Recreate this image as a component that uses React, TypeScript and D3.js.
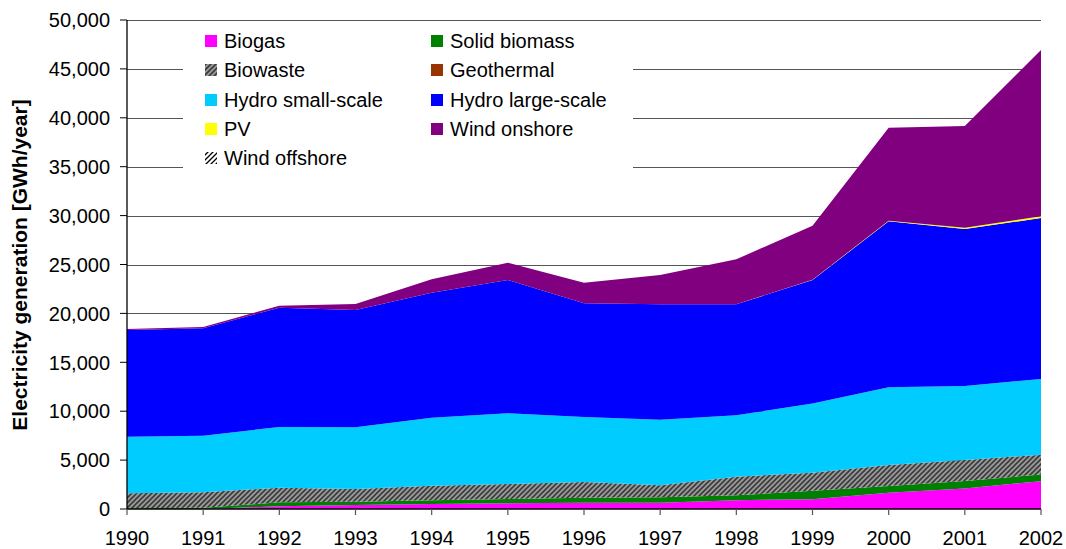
import React from "react";
import * as d3 from "d3";

const years = [1990, 1991, 1992, 1993, 1994, 1995, 1996, 1997, 1998, 1999, 2000, 2001, 2002];
const yTicks = [0, 5000, 10000, 15000, 20000, 25000, 30000, 35000, 40000, 45000, 50000];

const biogas = [0, 10, 280, 400, 500, 600, 650, 650, 900, 1000, 1650, 2100, 2850];
const solidBiomass = [70, 120, 400, 350, 390, 420, 510, 540, 500, 870, 700, 760, 690];
const biowaste = [1530, 1570, 1500, 1290, 1500, 1530, 1600, 1230, 1900, 1840, 2150, 2150, 2010];
const geothermal = [0, 0, 0, 0, 0, 0, 0, 0, 0, 0, 0, 0, 0];
const hydroSmall = [5790, 5800, 6205, 6310, 6950, 7230, 6650, 6710, 6280, 7090, 7940, 7570, 7740];
const hydroLarge = [10910, 10980, 12195, 12000, 12780, 13635, 11620, 11800, 11350, 12615, 16980, 16050, 16460];
const pv = [0, 0, 0, 0, 0, 0, 0, 0, 0, 30, 60, 120, 190];
const windOnshore = [100, 130, 210, 610, 1370, 1765, 2110, 3000, 4600, 5525, 9510, 10410, 16990];
const windOffshore = [0, 0, 0, 0, 0, 0, 0, 0, 0, 0, 0, 0, 0];

const seriesNames = [
  "Biogas", "Solid biomass", "Biowaste", "Geothermal", "Hydro small-scale",
  "Hydro large-scale", "PV", "Wind onshore", "Wind offshore",
];
const seriesValues = [biogas, solidBiomass, biowaste, geothermal, hydroSmall, hydroLarge, pv, windOnshore, windOffshore];
const seriesFills = [
  "#FF00FF", "#008000", "url(#biowaste)", "#993300", "#00CCFF",
  "#0000FF", "#FFFF00", "#800080", "url(#offshore)",
];

const FONT = "'Liberation Sans', Arial, Helvetica, sans-serif";

export default function App() {
  const W = 1066, H = 549;
  const x = d3.scaleLinear().domain([1990, 2002]).range([127, 1041]);
  const y = d3.scaleLinear().domain([0, 50000]).range([509, 20]);

  const table = years.map((yr, i) => {
    const row: any = { year: yr };
    seriesNames.forEach((n, k) => (row[n] = seriesValues[k][i]));
    return row;
  });
  const stacked = d3.stack().keys(seriesNames)(table);
  const area = d3
    .area<any>()
    .x((d) => x(d.data.year))
    .y0((d) => y(d[0]))
    .y1((d) => y(d[1]));

  const legendOrder = [
    [0, 1],
    [2, 3],
    [4, 5],
    [6, 7],
    [8],
  ];
  const rowY = [41, 70, 100, 129, 158];
  const colX = [205, 431];

  return (
    <svg width={W} height={H} style={{ position: "absolute", left: 0, top: 0, background: "#fff" }}>
      <defs>
        <pattern id="biowaste" patternUnits="userSpaceOnUse" width="5" height="5">
          <rect width="5" height="5" fill="#9a9a9a" />
          <path d="M-1,1 l2,-2 M0,5 l5,-5 M4,6 l2,-2" stroke="#3a3a3a" strokeWidth="1.6" />
        </pattern>
        <pattern id="offshore" patternUnits="userSpaceOnUse" width="5" height="5">
          <rect width="5" height="5" fill="#ffffff" />
          <path d="M-1,1 l2,-2 M0,5 l5,-5 M4,6 l2,-2" stroke="#000" strokeWidth="1.3" />
        </pattern>
      </defs>
      <rect width={W} height={H} fill="#fff" />
      {yTicks.filter((t) => t > 0).map((t) => (
        <line key={t} x1={127} x2={1041} y1={Math.round(y(t)) + 0.5} y2={Math.round(y(t)) + 0.5} stroke="#555" strokeWidth={1} />
      ))}
      <rect x={183} y={25} width={450} height={153} fill="#fff" />
      {stacked.map((s, k) => (
        <path key={seriesNames[k]} d={area(s) || ""} fill={seriesFills[k]} stroke="none" />
      ))}
      <line x1={127} x2={127} y1={20} y2={509} stroke="#000" strokeWidth={1.3} />
      <line x1={127} x2={1041} y1={509} y2={509} stroke="#000" strokeWidth={1.3} />
      {yTicks.map((t) => (
        <g key={t}>
          <line x1={120} x2={127} y1={y(t)} y2={y(t)} stroke="#000" strokeWidth={1} />
          <text x={110} y={y(t)} dy="0.36em" textAnchor="end" fontFamily={FONT} fontSize={20} fill="#000">
            {d3.format(",")(t)}
          </text>
        </g>
      ))}
      {years.map((yr) => (
        <g key={yr}>
          <line x1={x(yr)} x2={x(yr)} y1={509} y2={515} stroke="#555" strokeWidth={1.2} />
          <text x={x(yr)} y={545} textAnchor="middle" fontFamily={FONT} fontSize={20} fill="#000">
            {yr}
          </text>
        </g>
      ))}
      <text
        transform={`translate(27,265) rotate(-90)`}
        textAnchor="middle"
        fontFamily={FONT}
        fontSize={21}
        fontWeight="bold"
        fill="#000"
      >
        Electricity generation [GWh/year]
      </text>
      {legendOrder.map((row, r) =>
        row.map((k, c) => (
          <g key={seriesNames[k]}>
            <rect x={colX[c]} y={rowY[r] - 6} width={12} height={12} fill={seriesFills[k]} />
            <text x={colX[c] + 19} y={rowY[r]} dy="0.36em" fontFamily={FONT} fontSize={20} fill="#000">
              {seriesNames[k]}
            </text>
          </g>
        ))
      )}
    </svg>
  );
}
